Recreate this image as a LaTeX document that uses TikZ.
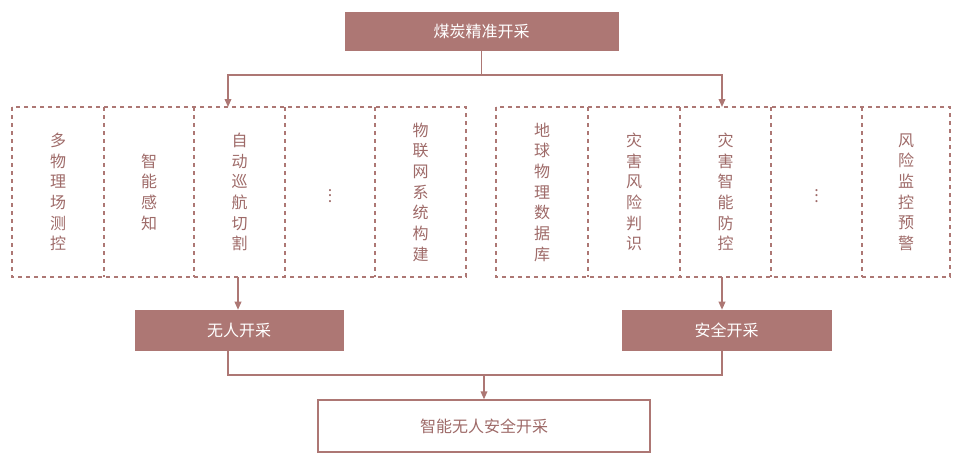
\documentclass[tikz,border=0pt]{standalone}
\usepackage{fontspec}
\newfontfamily\cjk{Noto Sans CJK SC}
\usetikzlibrary{arrows.meta}
\definecolor{rose}{HTML}{AD7774}
\definecolor{rosetext}{HTML}{9E6A68}
\tikzset{
  solidbox/.style={draw=rose, fill=rose, text=white, font=\cjk\fontsize{12}{14}\selectfont, inner sep=0pt},
  openbox/.style={draw=rose, line width=1pt, fill=white, text=rosetext, font=\cjk\fontsize{12}{14}\selectfont, inner sep=0pt},
  groupbox/.style={draw=rose, dashed, line width=0.9pt},
  coltext/.style={text=rosetext, font=\cjk\fontsize{12}{15.5}\selectfont, align=center},
  link/.style={draw=rose, line width=1.1pt},
  tip/.style={-{Triangle[length=6pt,width=5pt]}}
}
\begin{document}
\begin{tikzpicture}[x=0.75pt, y=-0.75pt]
  \useasboundingbox (0,0) rectangle (960,468);
  % boxes
  \node[solidbox, minimum width=273*0.75pt, minimum height=38*0.75pt] (top) at (481.5,31) {煤炭精准开采};
  \node[solidbox, minimum width=208*0.75pt, minimum height=40*0.75pt] (unman) at (239,330) {无人开采};
  \node[solidbox, minimum width=209*0.75pt, minimum height=40*0.75pt] (safe) at (726.5,330) {安全开采};
  \node[openbox, minimum width=332*0.75pt, minimum height=52*0.75pt] (final) at (484,426) {智能无人安全开采};
  % dashed groups
  \draw[groupbox] (12,107) rectangle (466,277);
  \draw[groupbox] (496,107) rectangle (950,277);
  \foreach \x in {104,194,285,375,588,680,771,862}
    \draw[groupbox] (\x,107) -- (\x,277);
  \foreach \x/\t in {58/多\\物\\理\\场\\测\\控, 149/智\\能\\感\\知, 239.5/自\\动\\巡\\航\\切\\割,
                     420.5/物\\联\\网\\系\\统\\构\\建,
                     542/地\\球\\物\\理\\数\\据\\库, 634/灾\\害\\风\\险\\判\\识, 725.5/灾\\害\\智\\能\\防\\控,
                     906/风\\险\\监\\控\\预\\警}
    \node[coltext] at (\x,192) {\t};
  \foreach \x in {330,816.5}
    \node[coltext] at (\x,192) {$\vdots$};
  % connectors
  \coordinate (split) at (481.5,75);
  \coordinate (join) at (484,375);
  \draw[link] (481.5,50) -- (split);
  \draw[link, tip] (split) -| (228,107);
  \draw[link, tip] (split) -| (722,107);
  \draw[link, tip] (238,277) -- (unman.north -| 238,0);
  \draw[link, tip] (722,277) -- (safe.north -| 722,0);
  \draw[link] (unman.south -| 228,0) |- (join);
  \draw[link] (safe.south -| 722,0) |- (join);
  \draw[link, tip] (join) -- (final.north);
\end{tikzpicture}
\end{document}
